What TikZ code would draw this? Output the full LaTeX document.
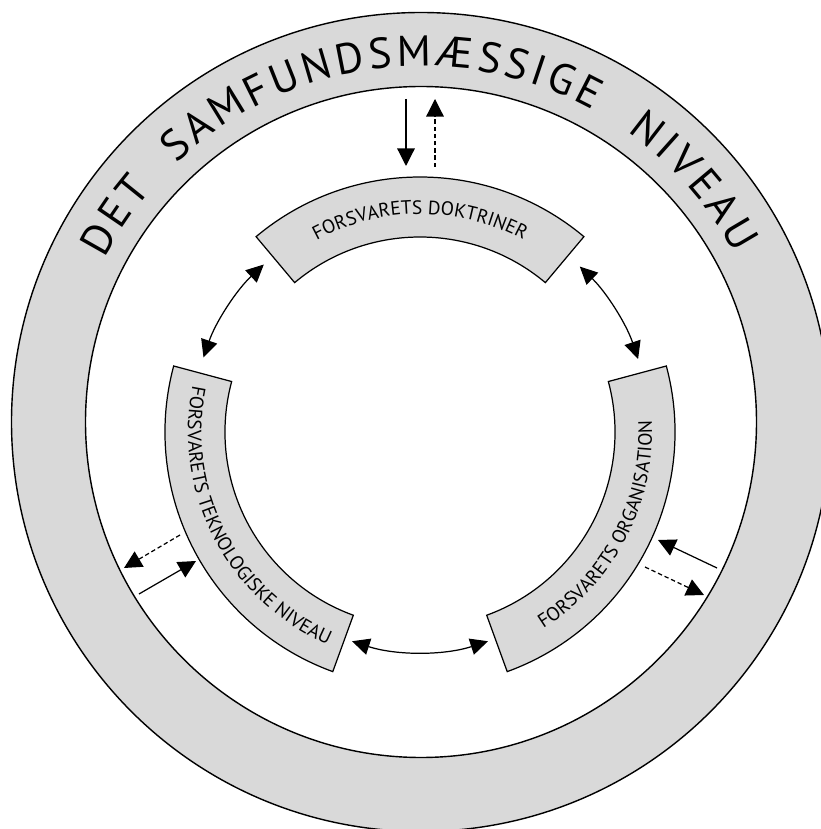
\documentclass[tikz,border=0pt]{standalone}
\usepackage{fontspec}
\setmainfont{PT Sans}
\usetikzlibrary{arrows.meta,decorations.text}

\tikzset{
  ring/.style={draw=black, line width=0.8pt, fill=black!15, even odd rule},
  segbox/.style={draw=black, line width=0.7pt, fill=black!15},
  tip/.style={-{Triangle[length=10pt,width=10pt]}, line width=0.7pt},
  twotip/.style={{Triangle[length=10pt,width=9.5pt]}-{Triangle[length=10pt,width=9.5pt]}, line width=0.7pt},
  dashy/.style={dash pattern=on 2.5pt off 1.6pt},
  ringword/.style={decorate, decoration={text effects along path, text={#1},
      text align=center, text effects/.cd,
      character widths={inner xsep=1.2pt, font=\ringfont},
      characters={text along path, inner xsep=1.2pt, font=\ringfont}}},
}
\newcommand\segfont{\fontsize{11}{13}\selectfont}
\newcommand\ringfont{\fontsize{24.5}{28}\selectfont}

\begin{document}
\begin{tikzpicture}[x=0.02cm, y=0.02cm]
  \useasboundingbox (0,0) rectangle (821,829);
  \clip (0,0) rectangle (821,829);
  \coordinate (ringc) at (421,407);
  \coordinate (segc) at (420,397);

  % the outer ring
  \draw[ring] (ringc) circle[radius=409.5] (ringc) circle[radius=335.5];

  % words round the ring
  \begin{scope}[shift={(ringc)}]
    \path[ringword=DET] (176:356) arc[start angle=176, end angle=116, radius=356];
    \path[ringword=SAMFUNDSMÆSSIGE] (147.25:356) arc[start angle=147.25, end angle=47.25, radius=356];
    \path[ringword=NIVEAU] (71.4:356) arc[start angle=71.4, end angle=11.4, radius=356];
  \end{scope}

  % the three segments
  \begin{scope}[shift={(segc)}]
    \draw[segbox] (130:195) -- (130:255) arc[start angle=130, end angle=50, radius=255]
      -- (50:195) arc[start angle=50, end angle=130, radius=195] -- cycle;
    \draw[segbox] (165:195) -- (165:255) arc[start angle=165, end angle=250, radius=255]
      -- (250:195) arc[start angle=250, end angle=165, radius=195] -- cycle;
    \draw[segbox] (290:195) -- (290:255) arc[start angle=290, end angle=375, radius=255]
      -- (375:195) arc[start angle=375, end angle=290, radius=195] -- cycle;

    \path[decorate, decoration={text along path, text align=center,
        text={|\segfont|FORSVARETS DOKTRINER}}]
      (130:218) arc[start angle=130, end angle=50, radius=218];
    \path[decorate, decoration={text along path, text align=center,
        text={|\segfont|FORSVARETS TEKNOLOGISKE NIVEAU}}]
      (165:232) arc[start angle=165, end angle=250, radius=232];
    \path[decorate, decoration={text along path, text align=center,
        text={|\segfont|FORSVARETS ORGANISATION}}]
      (290:232) arc[start angle=290, end angle=375, radius=232];

    % arrows between the segments
    \coordinate (dok1) at (133:229);
    \coordinate (dok2) at (46:230);
    \coordinate (tek1) at (252:220);
    \draw[twotip] (dok1) arc[start angle=133, end angle=161, radius=229];
    \draw[twotip] (dok2) arc[start angle=46, end angle=18.5, radius=230];
    \draw[twotip] (tek1) arc[start angle=252, end angle=288, radius=220];
  \end{scope}

  % arrows to and from the ring
  \coordinate (topa) at (406,730);
  \coordinate (topb) at (406,663);
  \coordinate (topc) at (435,662);
  \coordinate (topd) at (435,730);
  \draw[tip] (topa) -- (topb);
  \draw[tip, dashy] (topc) -- (topd);

  \coordinate (lefta) at (180,294);
  \coordinate (leftb) at (124,261);
  \coordinate (leftc) at (139,235);
  \coordinate (leftd) at (196,268);
  \draw[tip, dashy] (lefta) -- (leftb);
  \draw[tip] (leftc) -- (leftd);

  \coordinate (righta) at (717,261);
  \coordinate (rightb) at (658,289);
  \coordinate (rightc) at (645,262);
  \coordinate (rightd) at (704,234);
  \draw[tip] (righta) -- (rightb);
  \draw[tip, dashy] (rightc) -- (rightd);
\end{tikzpicture}
\end{document}
